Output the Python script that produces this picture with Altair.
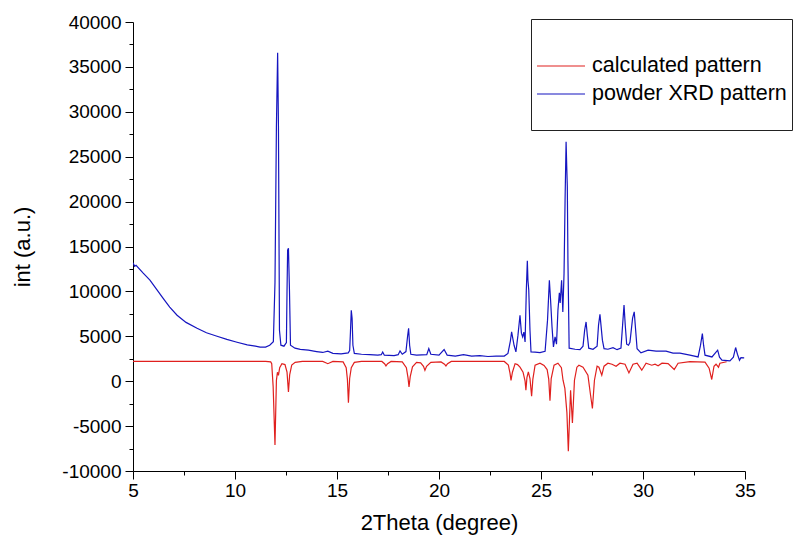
import altair as alt
import pandas as pd

# calculated pattern (2theta, intensity)
calc_x = [5.0, 11.5, 11.75, 11.8, 11.87, 11.96, 12.03, 12.08, 12.13, 12.19, 12.3, 12.45, 12.55, 12.62,
          12.68, 12.78, 12.95, 13.3, 14.3, 14.45, 14.55, 14.65, 14.8, 15.3, 15.45, 15.51, 15.56, 15.62,
          15.7, 15.85, 16.2, 17.2, 17.33, 17.4, 17.48, 17.65, 18.2, 18.4, 18.48, 18.53, 18.59, 18.7,
          18.9, 19.1, 19.24, 19.31, 19.39, 19.6, 20.1, 20.27, 20.34, 20.42, 20.6, 23.2, 23.4, 23.48,
          23.53, 23.6, 23.73, 23.85, 23.97, 24.12, 24.22, 24.26, 24.31, 24.38, 24.46, 24.54, 24.6,
          24.71, 24.95, 25.15, 25.3, 25.38, 25.44, 25.5, 25.64, 25.83, 26.0, 26.08, 26.17, 26.27,
          26.34, 26.45, 26.54, 26.64, 26.76, 26.86, 27.06, 27.3, 27.43, 27.52, 27.62, 27.75, 27.84,
          27.98, 28.09, 28.28, 28.48, 28.68, 28.87, 29.12, 29.31, 29.51, 29.71, 29.94, 30.15, 30.43,
          30.59, 30.74, 30.93, 31.23, 31.53, 31.72, 32.3, 33.04, 33.24, 33.37, 33.48, 33.58, 33.7,
          33.77, 34.1]
calc_y = [2200, 2200, 2150, 1950, -600, -7100, 100, 1000, 650, 1500, 1950, 1850, 1000, -1200,
          700, 1800, 2100, 2200, 2200, 2050, 1950, 2050, 2200, 2150, 1500, 200, -2400, 300,
          1500, 2100, 2200, 2200, 1950, 1700, 1950, 2200, 2150, 1500, 400, -650, 500, 1600,
          2100, 2050, 1650, 1200, 1650, 2100, 2150, 1900, 1700, 1950, 2200, 2200, 1800, 900,
          100, 1000, 1950, 1850, 1560, 1000, 0, -1000, 400, 1040, 300, -1670, 200,
          1780, 2000, 1750, 1300, 200, -2170, 300, 1780, 2000, 1500, 110, -800, -3500,
          -7800, -1000, -4645, 110, 1560, 1780, 1560, 670, -1560, -3040, 111, 1670, 1560,
          670, 1670, 2005, 1890, 1670, 2005, 1890, 925, 1890, 2005, 1225, 2005, 1780,
          1890, 1727, 2005, 1950, 1300, 2005, 2170, 2115, 1450, 190, 1670, 1890, 1560,
          2005, 2170]

# powder XRD pattern (2theta, intensity)
obs_x = [5.0, 5.08, 5.15, 5.5, 5.83, 6.15, 6.47, 6.8, 7.16, 7.6, 8.14, 8.6, 9.12, 9.6, 10.1, 10.6,
         11.0, 11.23, 11.5, 11.7, 11.88, 11.96, 12.03, 12.09, 12.13, 12.18, 12.25, 12.4, 12.52,
         12.55, 12.58, 12.62, 12.67, 12.72, 12.94, 13.2, 13.6, 14.0, 14.3, 14.55, 14.8, 15.2, 15.55,
         15.62, 15.66, 15.7, 15.74, 15.78, 15.85, 16.2, 16.6, 17.0, 17.17, 17.24, 17.32, 17.8, 18.0,
         18.09, 18.2, 18.38, 18.46, 18.51, 18.56, 18.62, 18.9, 19.4, 19.5, 19.6, 20.0, 20.25, 20.4,
         20.8, 21.2, 21.6, 22.0, 22.4, 22.8, 23.2, 23.38, 23.5, 23.56, 23.68, 23.77, 23.87, 23.97,
         24.04, 24.1, 24.16, 24.22, 24.28, 24.33, 24.36, 24.4, 24.46, 24.51, 24.71, 24.95, 25.2,
         25.32, 25.41, 25.47, 25.54, 25.61, 25.69, 25.76, 25.83, 25.9, 25.94, 26.01, 26.07, 26.13,
         26.18, 26.23, 26.26, 26.29, 26.32, 26.38, 26.67, 26.91, 27.06, 27.14, 27.21, 27.27, 27.34,
         27.55, 27.75, 27.82, 27.89, 27.94, 28.01, 28.09, 28.28, 28.53, 28.73, 28.92, 29.0, 29.07,
         29.13, 29.2, 29.29, 29.36, 29.49, 29.57, 29.64, 29.71, 29.9, 30.25, 30.64, 31.13, 31.47,
         31.81, 32.3, 32.7, 32.82, 32.91, 32.97, 33.04, 33.38, 33.58, 33.66, 33.75, 33.87, 34.26,
         34.43, 34.54, 34.63, 34.73, 34.8, 34.96]
obs_y = [13200, 12800, 12900, 12030, 11250, 10250, 9250, 8250, 7350, 6550, 5900, 5400, 5010, 4650,
         4340, 4050, 3900, 3790, 3800, 4000, 4400, 11000, 28300, 36570, 28300, 5680, 4010, 3900,
         4300, 10000, 14600, 14800, 10100, 4000, 3680, 3550, 3450, 3300, 3200, 3350, 3100, 3050,
         3150, 3400, 5500, 7900, 7000, 4000, 3100, 3000, 2950, 2900, 2950, 3250, 2900, 2850, 2950,
         3380, 3000, 3300, 5000, 5900, 4000, 3000, 2900, 2950, 3640, 3000, 2900, 3530, 2900,
         2800, 2950, 2800, 2850, 2750, 2800, 2800, 3100, 4500, 5490, 4000, 3260, 5100, 7350,
         5350, 4940, 5460, 4380, 10100, 13400, 11250, 10140, 5680, 3260, 3230, 3175, 3340,
         6800, 11250, 9020, 6050, 3820, 4940, 4120, 7900, 9840, 8700, 11250, 7720, 12030,
         20160, 26660, 24060, 21650, 13480, 3680, 3560, 3510, 3900, 5680, 6600, 5120, 3680,
         3560, 3900, 6240, 7460, 6240, 4570, 3620, 3560, 3730, 3510, 3680, 6240, 8470,
         6240, 4120, 4010, 4340, 7020, 7720, 5680, 3620, 3150, 3450, 3340, 3340, 3120,
         3120, 2900, 2700, 4010, 5310, 4010, 2900, 2700, 3230, 3450, 2670, 2340, 2260,
         2670, 3750, 3000, 2340, 2620, 2600]

series_names = ["calculated pattern", "powder XRD pattern"]
series_colors = ["#e0201e", "#1515c0"]

# legend rows: an empty spacer row above the two series rows
legend_domain = [" "] + series_names
legend_range = ["rgba(0,0,0,0)"] + series_colors

x_tick_values = [5, 7.5, 10, 12.5, 15, 17.5, 20, 22.5, 25, 27.5, 30, 32.5, 35]
y_tick_values = [-10000, -7500, -5000, -2500, 0, 2500, 5000, 7500, 10000, 12500, 15000,
                 17500, 20000, 22500, 25000, 27500, 30000, 32500, 35000, 37500, 40000]

df = pd.concat([
    pd.DataFrame({"theta": calc_x, "intensity": calc_y, "series": series_names[0]}),
    pd.DataFrame({"theta": obs_x, "intensity": obs_y, "series": series_names[1]}),
], ignore_index=True)

FONT = "Liberation Sans"

x_axis = alt.Axis(
    title="2Theta (degree)", values=x_tick_values,
    labelExpr="datum.value % 5 === 0 ? '' + datum.value : ''",
    tickSize={"condition": {"test": "datum.value % 5 === 0", "value": 8}, "value": 4},
    grid=False, domainColor="black", tickColor="black", domainWidth=1, tickWidth=1,
    labelFont=FONT, titleFont=FONT, labelFontSize=19, titleFontSize=22,
    labelColor="black", titleColor="black", titleFontWeight="normal",
    labelPadding=2, titlePadding=12, labelFlush=False, labelOverlap=False,
)
y_axis = alt.Axis(
    title="int (a.u.)", values=y_tick_values,
    labelExpr="datum.value % 5000 === 0 ? '' + datum.value : ''",
    tickSize={"condition": {"test": "datum.value % 5000 === 0", "value": 8}, "value": 4},
    grid=False, domainColor="black", tickColor="black", domainWidth=1, tickWidth=1,
    labelFont=FONT, titleFont=FONT, labelFontSize=19, titleFontSize=22,
    labelColor="black", titleColor="black", titleFontWeight="normal",
    labelPadding=4, titlePadding=27, labelFlush=False, labelOverlap=False,
)

legend = alt.Legend(
    orient="none", legendX=398, legendY=-3,
    title=" ", titleOrient="bottom", titleFontSize=13, titlePadding=4,
    labelFont=FONT, labelFontSize=21.5, labelColor="black", labelLimit=400, labelOffset=6,
    symbolType="stroke", symbolSize=2304, symbolStrokeWidth=1.2,
    padding=5, strokeColor="#222222", fillColor="white",
    clipHeight=28, rowPadding=0,
)

chart = alt.Chart(df).mark_line(strokeWidth=1.2, clip=True).encode(
    x=alt.X("theta:Q", scale=alt.Scale(domain=[5, 35], nice=False, zero=False), axis=x_axis),
    y=alt.Y("intensity:Q", scale=alt.Scale(domain=[-10000, 40000], nice=False, zero=False), axis=y_axis),
    color=alt.Color("series:N", scale=alt.Scale(domain=legend_domain, range=legend_range), legend=legend),
).properties(
    width=612, height=449,
    autosize=alt.AutoSizeParams(type="none"),
    padding={"left": 125, "top": 14, "right": 49, "bottom": 65},
    background="white",
).configure_view(stroke=None)

chart.save("out.html", embed_options={"renderer": "svg", "actions": False})
